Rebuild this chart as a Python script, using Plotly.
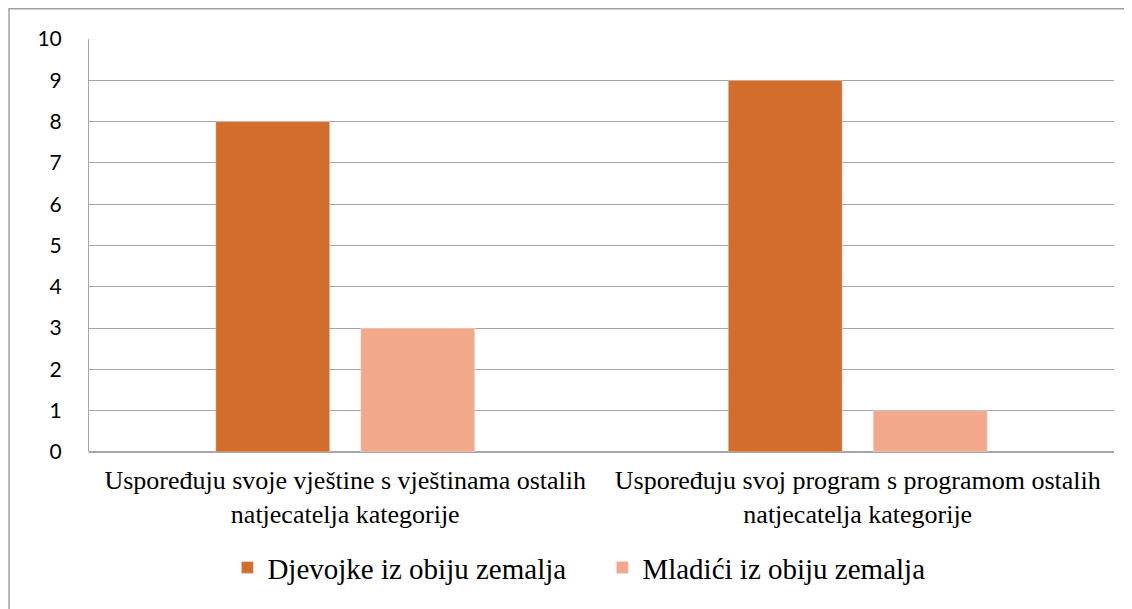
import plotly.graph_objects as go

categories = [
    "Uspoređuju svoje vještine s vještinama ostalih<br>natjecatelja kategorije",
    "Uspoređuju svoj program s programom ostalih<br>natjecatelja kategorije",
]
djevojke = [8, 9]
mladici = [3, 1]
y_ticks = list(range(0, 11))

SERIF = "Liberation Serif, Times New Roman, serif"

fig = go.Figure()
fig.add_trace(go.Bar(x=categories, y=djevojke, name="Djevojke iz obiju zemalja",
                     marker_color="#D26D2C"))
fig.add_trace(go.Bar(x=categories, y=mladici, name="Mladići iz obiju zemalja",
                     marker_color="#F1A88B"))

fig.update_layout(
    width=1132,
    height=609,
    margin=dict(l=81, r=26, t=31, b=165),
    plot_bgcolor="white",
    paper_bgcolor="white",
    barmode="group",
    bargap=0.434,
    bargroupgap=0.214,
    showlegend=True,
    legend=dict(
        orientation="h",
        x=0.135,
        xanchor="left",
        y=-0.218,
        yanchor="top",
        font=dict(family=SERIF, size=29, color="#000000"),
        itemwidth=30,
        entrywidth=330,
        entrywidthmode="pixels",
    ),
    shapes=[
        dict(type="rect", xref="paper", yref="paper",
             x0=-0.078, x1=1.3, y0=-0.6, y1=1.073,
             line=dict(color="#A0A0A0", width=1.5), layer="below"),
    ],
)

fig.update_xaxes(
    tickfont=dict(family=SERIF, size=26, color="#000000"),
    showline=False,
    showgrid=False,
    ticks="",
    ticklabelstandoff=10,
)
fig.update_yaxes(
    range=[0, 10],
    tickvals=y_ticks,
    tickfont=dict(family="Lato", size=21, color="#000000"),
    showgrid=True,
    gridcolor="#A6A6A6",
    gridwidth=1,
    showline=True,
    linecolor="#A6A6A6",
    linewidth=1,
    zeroline=True,
    zerolinecolor="#A6A6A6",
    ticks="",
    ticklabelstandoff=22,
)

fig.write_html("out.html")
